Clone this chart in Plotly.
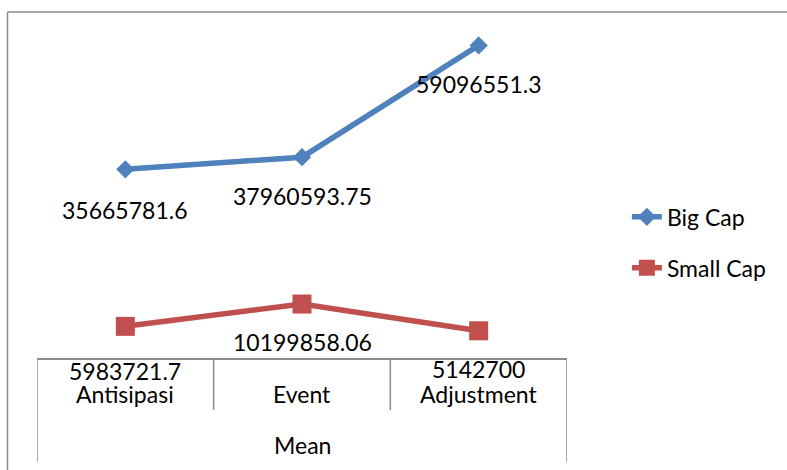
import plotly.graph_objects as go

# ---- data ----
categories = ["Antisipasi", "Event", "Adjustment"]
group_label = "Mean"
big_cap = [35665781.6, 37960593.75, 59096551.3]
small_cap = [5983721.7, 10199858.06, 5142700]
big_labels = ["35665781.6", "37960593.75", "59096551.3"]
small_labels = ["5983721.7", "10199858.06", "5142700"]

# ---- style ----
BLUE = "#4F81BD"
RED = "#C0504D"
GRAY = "#8C8C8C"
FONT = "Lato"
FS = 23
W, H = 787, 470
ML, MR, MT, MB = 37, 220, 12, 112
PH = H - MT - MB
big_off = [-41, -39, -39]
small_off = [-45, -38, -38]

xs = list(range(len(categories)))

fig = go.Figure()
fig.add_trace(go.Scatter(
    x=xs, y=big_cap, mode="lines+markers", name="Big Cap",
    legendgroup="a",
    line=dict(color=BLUE, width=5.5),
    marker=dict(symbol="diamond", size=14, color=BLUE),
))
fig.add_trace(go.Scatter(
    x=xs, y=small_cap, mode="lines+markers", name="Small Cap",
    legendgroup="b",
    line=dict(color=RED, width=5.5),
    marker=dict(symbol="square", size=19, color=RED),
))

ann = []
for i, (v, t) in enumerate(zip(big_cap, big_labels)):
    ann.append(dict(x=xs[i], y=v, xref="x", yref="y", text=t, showarrow=False,
                    yshift=big_off[i], font=dict(family=FONT, size=FS, color="#000")))
for i, (v, t) in enumerate(zip(small_cap, small_labels)):
    ann.append(dict(x=xs[i], y=v, xref="x", yref="y", text=t, showarrow=False,
                    yshift=small_off[i], font=dict(family=FONT, size=FS, color="#000")))
for i, c in enumerate(categories):
    ann.append(dict(x=xs[i], y=0, xref="x", yref="paper", text=c, showarrow=False,
                    yanchor="middle", yshift=-36, font=dict(family=FONT, size=FS, color="#000")))
ann.append(dict(x=(xs[0] + xs[-1]) / 2, y=0, xref="x", yref="paper", text=group_label,
                showarrow=False, yanchor="middle", yshift=-87,
                font=dict(family=FONT, size=FS, color="#000")))

shapes = []
inner = -52 / PH
outer = -104 / PH
for i in range(len(categories) + 1):
    xb = i - 0.5
    y1 = outer if i in (0, len(categories)) else inner
    shapes.append(dict(type="line", xref="x", yref="paper", x0=xb, x1=xb, y0=0, y1=y1,
                       line=dict(color=GRAY, width=1.5)))
# chart frame (left and top edges)
fx = (7.5 - ML) / (W - ML - MR)
shapes.append(dict(type="line", xref="paper", yref="paper", x0=fx, x1=fx, y0=1, y1=-2,
                   line=dict(color=GRAY, width=1.5)))
shapes.append(dict(type="line", xref="paper", yref="paper", x0=fx, x1=2, y0=1, y1=1,
                   line=dict(color=GRAY, width=1.5)))

fig.update_layout(
    width=W, height=H,
    margin=dict(l=ML, r=MR, t=MT, b=MB, autoexpand=False),
    paper_bgcolor="white", plot_bgcolor="white",
    font=dict(family=FONT, size=FS, color="#000"),
    xaxis=dict(range=[-0.5, len(categories) - 0.5], showgrid=False, zeroline=False,
               showticklabels=False, ticks="", showline=True, linecolor=GRAY, linewidth=1.5),
    yaxis=dict(range=[0, PH / 5.29 * 1e6], visible=False, showgrid=False),
    showlegend=True,
    legend=dict(x=1.113, y=0.47, xanchor="left", yanchor="top",
                traceorder="grouped", tracegroupgap=18,
                font=dict(family=FONT, size=FS, color="#000"),
                bgcolor="rgba(0,0,0,0)"),
    annotations=ann, shapes=shapes,
)

fig.write_html("out.html")
